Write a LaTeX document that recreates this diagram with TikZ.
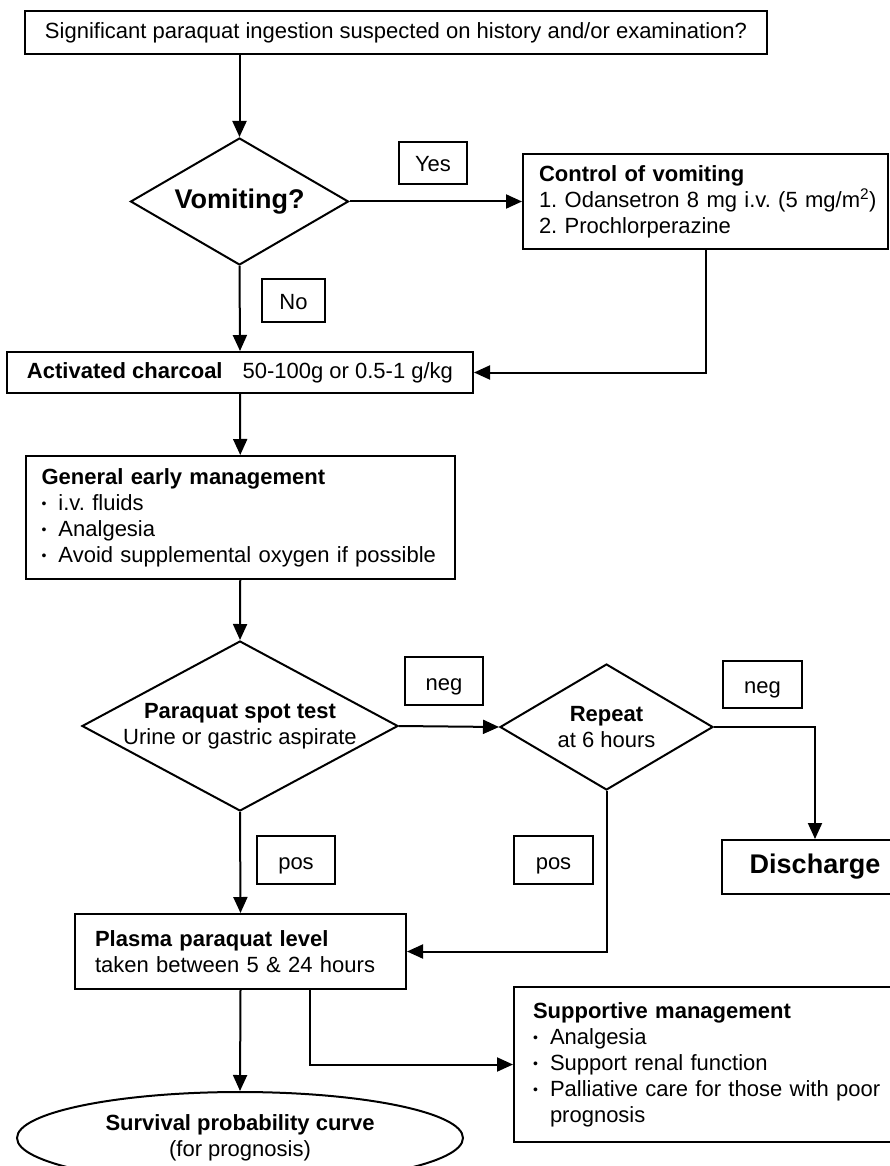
\documentclass[tikz,border=0pt]{standalone}
\usepackage{fontspec}
\setmainfont{Liberation Sans}
\usetikzlibrary{shapes.geometric,arrows.meta}
\newcommand{\itm}[1]{\makebox[17pt][l]{\raisebox{2pt}{\fontsize{14}{14}\selectfont\textbullet}}#1}
\frenchspacing

\begin{document}
\begin{tikzpicture}[x=1pt,y=-1pt,line width=2pt,
  every node/.style={font=\fontsize{22}{26}\selectfont},
  box/.style={draw,rectangle,inner sep=0pt},
  tag/.style={box,text height=20pt,text depth=2pt},
  textbox/.style={draw,rectangle,align=left,inner ysep=0pt},
  decision/.style={draw,diamond,inner sep=0pt},
  big/.style={font=\fontsize{27}{30}\selectfont\bfseries},
  arr/.style={-{Triangle[length=16pt,width=14pt]}}]
\clip (0,0) rectangle (890,1166);

\node[box, minimum width=742pt, minimum height=43pt] (top) at (396,32.5) {Significant paraquat ingestion suspected on history and/or examination?};

\node[decision, minimum width=218pt, minimum height=127pt] (vomit) at (239.5,201.5) {};
\node[big, inner sep=0pt] (vomittxt) at (vomit) {Vomiting?};
\node[tag, minimum width=68pt, minimum height=42pt] (yes) at (433,163) {Yes};
\node[textbox, text width=333pt, inner xsep=16pt, minimum height=95pt] (control) at (705.5,201.5)
  {\textbf{Control of vomiting}\\\mbox{1. Odansetron 8 mg i.v. (5 mg/m\textsuperscript{2})}\\2. Prochlorperazine};
\node[tag, minimum width=63pt, minimum height=43pt] (no) at (293.5,300.5) {No};

\node[box, minimum width=466pt, minimum height=41pt] (charcoal) at (240,372.5)
  {\textbf{Activated charcoal}\hspace{20pt}50-100g or 0.5-1 g/kg};

\node[textbox, text width=397.5pt, inner xsep=16pt, minimum height=123pt] (general) at (240.25,517.5)
  {\textbf{General early management}\\\itm{i.v. fluids}\\\itm{Analgesia}\\\itm{Avoid supplemental oxygen if possible}};

\node[decision, minimum width=316pt, minimum height=170pt] (spot) at (240,726) {};
\node[align=center, inner sep=0pt] (spottxt) at (spot) {\textbf{Paraquat spot test}\\Urine or gastric aspirate};
\node[tag, minimum width=78pt, minimum height=48pt] (neg1) at (444,681) {neg};

\node[decision, minimum width=213pt, minimum height=126pt] (repeat) at (606.5,727) {};
\node[align=center, inner sep=0pt] (repeattxt) at (repeat) {\textbf{Repeat}\\at 6 hours};
\node[tag, minimum width=79pt, minimum height=47pt] (neg2) at (762.5,684.5) {neg};

\node[box, big, minimum width=186pt, minimum height=54pt] (discharge) at (815,867) {Discharge};
\node[tag, minimum width=78pt, minimum height=48pt] (pos1) at (296,860) {pos};
\node[tag, minimum width=79pt, minimum height=48pt] (pos2) at (553.5,860) {pos};

\node[textbox, text width=291pt, inner xsep=20pt, minimum height=75pt] (plasma) at (240.5,951.5)
  {\textbf{Plasma paraquat level}\\taken between 5 \& 24 hours};

\node[textbox, text width=348pt, inner xsep=19pt, minimum height=155pt] (support) at (707,1064.5)
  {\textbf{Supportive management}\\\itm{Analgesia}\\\itm{Support renal function}\\\itm{Palliative care for those with poor}\\\hspace*{17pt}prognosis};

\node[draw, ellipse, inner sep=0pt, align=center, minimum width=446pt, minimum height=92pt] (surv) at (240,1138)
  {\textbf{Survival probability curve}\\(for prognosis)};

\draw[arr] (top.south -| vomit.north) -- (vomit.north);
\draw[arr] (vomit.east) -- (control.west);
\draw[arr] (vomit.south) -- (charcoal.north);
\draw[arr] (control.south) |- (charcoal.east);
\draw[arr] (charcoal.south) -- (general.north);
\draw[arr] (general.south) -- (spot.north);
\draw[arr] (spot.east) -- (repeat.west);
\draw[arr] (repeat.east) -| (discharge.north);
\draw[arr] (spot.south) -- (plasma.north);
\draw[arr] (repeat.south) |- (plasma.east);
\draw[arr] (plasma.south) -- (surv.north);
\draw[arr] ([xshift=69pt]plasma.south) |- (support.west);
\end{tikzpicture}
\end{document}
